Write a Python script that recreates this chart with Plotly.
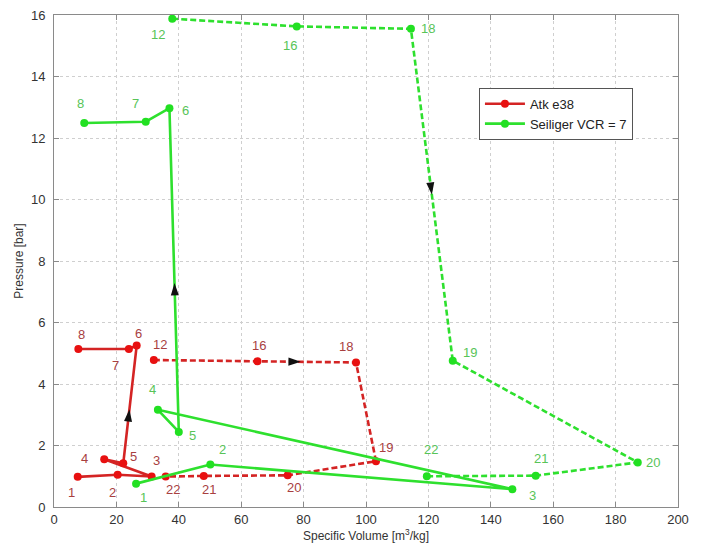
import math
import plotly.graph_objects as go

# ---------------- data ----------------
atk_solid_labels = ["1", "2", "3", "4", "5", "6", "7", "8"]
atk_solid_v = [7.6, 20.4, 31.3, 16.1, 22.2, 26.5, 24.0, 7.8]
atk_solid_p = [0.98, 1.05, 0.99, 1.55, 1.42, 5.25, 5.14, 5.14]

atk_dash_labels = ["12", "16", "18", "19", "20", "21", "22"]
atk_dash_v = [32.0, 65.2, 96.8, 103.2, 74.9, 48.0, 35.8]
atk_dash_p = [4.78, 4.74, 4.70, 1.49, 1.03, 1.01, 0.99]

sei_solid_labels = ["1", "2", "3", "4", "5", "6", "7", "8"]
sei_solid_v = [26.3, 50.1, 146.9, 33.3, 40.0, 37.0, 29.4, 9.7]
sei_solid_p = [0.76, 1.38, 0.58, 3.16, 2.44, 12.97, 12.53, 12.49]

sei_dash_labels = ["12", "16", "18", "19", "20", "21", "22"]
sei_dash_v = [37.9, 77.8, 114.4, 127.8, 187.1, 154.4, 119.5]
sei_dash_p = [15.88, 15.63, 15.55, 4.76, 1.45, 1.02, 1.00]

x_ticks = [0, 20, 40, 60, 80, 100, 120, 140, 160, 180, 200]
y_ticks = [0, 2, 4, 6, 8, 10, 12, 14, 16]

# ---------------- styles ----------------
RED_LINE = "#d42424"
RED_MARK = "#e81010"
RED_TXT = "#a8403f"
GRN_LINE = "#2ee02e"
GRN_MARK = "#22e022"
GRN_TXT = "#58c458"
FONT = "Liberation Sans, Arial, sans-serif"
DASH = "6px,3px"

# page body has an 8px margin, so the figure is drawn 8px smaller
W, H = 700, 543
ML, MR, MT, MB = 46, 30, 7, 44
X_RANGE = [0, 200]
Y_RANGE = [0, 16]
PX_X = (W - ML - MR) / (X_RANGE[1] - X_RANGE[0])
PX_Y = (H - MT - MB) / (Y_RANGE[1] - Y_RANGE[0])

# label pixel offsets (dx right, dy down)
atk_solid_off = [(-6, 16), (-5, 18), (5, -16), (-20, -1), (10, -7), (2, -12), (-13, 17), (3, -14)]
atk_dash_off = [(6, -16), (2, -16), (-10, -16), (10, -14), (6, 12), (5, 14), (7, 13)]
sei_solid_off = [(7, 14), (12, -15), (20, 6), (-5, -20), (14, 4), (16, 2), (-10, -18), (-4, -19)]
sei_dash_off = [(-14, 16), (-7, 19), (17, 0), (17, -8), (15, 0), (5, -17), (4, -27)]

fig = go.Figure()


def add_series(v, p, color, mcolor, dash, name, show):
    fig.add_trace(go.Scatter(
        x=v, y=p, mode="lines+markers", name=name, showlegend=show,
        line=dict(color=color, width=2.6, dash=dash),
        marker=dict(color=mcolor, size=8, symbol="circle"),
    ))


add_series(atk_solid_v, atk_solid_p, RED_LINE, RED_MARK, "solid", "Atk e38", True)
add_series(atk_dash_v, atk_dash_p, RED_LINE, RED_MARK, DASH, "Atk e38", False)
add_series(sei_solid_v, sei_solid_p, GRN_LINE, GRN_MARK, "solid", "Seiliger VCR = 7", True)
add_series(sei_dash_v, sei_dash_p, GRN_LINE, GRN_MARK, DASH, "Seiliger VCR = 7", False)

annotations = []


def add_labels(labels, v, p, offs, color):
    for lab, xv, yv, (dx, dy) in zip(labels, v, p, offs):
        annotations.append(dict(
            x=xv, y=yv, text=lab, showarrow=False, xshift=dx, yshift=-dy,
            font=dict(family=FONT, size=13, color=color),
        ))


add_labels(atk_solid_labels, atk_solid_v, atk_solid_p, atk_solid_off, RED_TXT)
add_labels(atk_dash_labels, atk_dash_v, atk_dash_p, atk_dash_off, RED_TXT)
add_labels(sei_solid_labels, sei_solid_v, sei_solid_p, sei_solid_off, GRN_TXT)
add_labels(sei_dash_labels, sei_dash_v, sei_dash_p, sei_dash_off, GRN_TXT)

arrow_x, arrow_y, arrow_ang = [], [], []


def add_arrow(v, p, i, t=0.5):
    # arrowhead on segment i -> i+1 at fraction t, pointing along travel direction
    x0, y0 = v[i], p[i]
    x1, y1 = v[i + 1], p[i + 1]
    arrow_x.append(x0 + t * (x1 - x0))
    arrow_y.append(y0 + t * (y1 - y0))
    dxp = (x1 - x0) * PX_X
    dyp = (y1 - y0) * PX_Y
    arrow_ang.append(math.degrees(math.atan2(dxp, dyp)))


add_arrow(atk_solid_v, atk_solid_p, 4, 0.46)
add_arrow(atk_dash_v, atk_dash_p, 1, 0.44)
add_arrow(sei_solid_v, sei_solid_p, 4, 0.46)
add_arrow(sei_dash_v, sei_dash_p, 2, 0.5)

fig.add_trace(go.Scatter(
    x=arrow_x, y=arrow_y, mode="markers", showlegend=False, hoverinfo="skip",
    marker=dict(symbol="arrow", size=13, angle=arrow_ang, color="#111111",
                line=dict(width=0)),
))

axis_common = dict(
    showline=True, linecolor="#8a8a8a", linewidth=1, mirror="ticks",
    ticks="inside", ticklen=5, tickcolor="#8a8a8a",
    showgrid=True, gridcolor="#cfcfcf", griddash="dot", gridwidth=1,
    zeroline=False, tickfont=dict(family=FONT, size=13, color="#333333"),
    automargin=False, ticklabeloverflow="allow",
)

fig.update_xaxes(range=X_RANGE, tickvals=x_ticks, ticktext=[str(t) for t in x_ticks],
                 title=dict(text="Specific Volume [m<sup>3</sup>/kg]", standoff=4,
                            font=dict(family=FONT, size=12, color="#333333")),
                 **axis_common)
fig.update_yaxes(range=Y_RANGE, tickvals=y_ticks, ticktext=[str(t) for t in y_ticks],
                 ticklabelstandoff=5,
                 title=dict(text="Pressure [bar]", standoff=4,
                            font=dict(family=FONT, size=12, color="#333333")),
                 **axis_common)

fig.update_layout(
    width=W, height=H,
    margin=dict(l=ML, r=MR, t=MT, b=MB, autoexpand=False),
    paper_bgcolor="white", plot_bgcolor="white",
    annotations=annotations,
    legend=dict(x=0.681, y=0.852, xanchor="left", yanchor="top",
                bgcolor="white", bordercolor="#555555", borderwidth=1,
                font=dict(family=FONT, size=13, color="#222222"),
                tracegroupgap=0, itemwidth=40),
    showlegend=True,
)

fig.write_html("out.html")
